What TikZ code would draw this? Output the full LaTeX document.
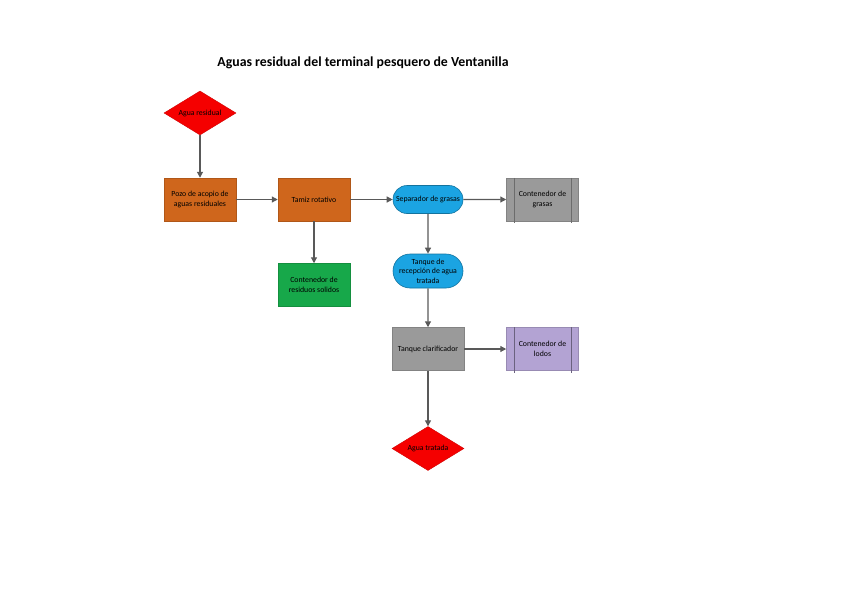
\documentclass[tikz,border=0pt]{standalone}
\usepackage{fontspec}
\setmainfont{Carlito}
\usetikzlibrary{shapes.geometric,shapes.misc,arrows.meta}
\definecolor{orangeF}{HTML}{CF661C}
\definecolor{greenF}{HTML}{17A84A}
\definecolor{blueF}{HTML}{1BA4E2}
\definecolor{grayF}{HTML}{9A9A9A}
\definecolor{lilacF}{HTML}{B3A3D3}
\definecolor{redF}{HTML}{F50000}
\definecolor{arrowC}{HTML}{595959}
\tikzset{
  nodefont/.style={font=\fontsize{7.8}{9.5}\selectfont},
  base/.style={minimum width=72pt, minimum height=43pt, inner sep=1pt, align=center, nodefont},
  procbox/.style={base, rectangle, fill=#1, draw=#1!85!black, line width=0.5pt},
  pill/.style={rounded rectangle, fill=blueF, draw=blueF!70!black, line width=0.6pt,
    minimum width=72pt, minimum height=#1, inner sep=1pt, nodefont, align=center},
  decision/.style={diamond, aspect=1.65, fill=redF, draw=redF!85!black, inner sep=0pt,
    minimum width=72pt, minimum height=44pt, nodefont, align=center},
  conn/.style={draw=arrowC, line width=1.2pt, -{Triangle[length=6pt,width=6pt]}},
}
\begin{document}
\begin{tikzpicture}[x=1pt,y=-1pt]
\useasboundingbox (0,0) rectangle (848,599);
\node[font=\bfseries\fontsize{13.8}{16}\selectfont] (title) at (363,63) {Aguas residual del terminal pesquero de Ventanilla};
\node[decision] (d1) at (200,113) {Agua residual};
\node[procbox=orangeF] (pozo) at (200,199.5) {Pozo de acopio de\\aguas residuales};
\node[procbox=orangeF] (tamiz) at (314,199.5) {Tamiz rotativo};
\node[pill=28pt] (sep) at (428,199.5) {Separador de grasas};
\node[procbox=grayF] (cg) at (542.5,199.5) {Contenedor de\\grasas};
\node[procbox=greenF] (crs) at (314,285) {Contenedor de\\residuos solidos};
\node[pill=34pt] (trec) at (428,271) {Tanque de\\recepción de agua\\tratada};
\node[procbox=grayF] (tcl) at (428,349) {Tanque clarificador};
\node[procbox=lilacF] (cl) at (542.5,349) {Contenedor de\\lodos};
\node[decision] (d2) at (428,448.5) {Agua tratada};
% predefined-process inner lines
\draw[draw=grayF!70!black, line width=0.5pt] ([xshift=8pt]cg.north west) -- ([xshift=8pt,yshift=-2pt]cg.south west)
  ([xshift=-8pt]cg.north east) -- ([xshift=-8pt,yshift=-2pt]cg.south east);
\draw[draw=lilacF!60!black, line width=0.5pt] ([xshift=8pt]cl.north west) -- ([xshift=8pt,yshift=-2pt]cl.south west)
  ([xshift=-8pt]cl.north east) -- ([xshift=-8pt,yshift=-2pt]cl.south east);
% connectors
\draw[conn] (d1) -- (pozo);
\draw[conn] (pozo) -- (tamiz);
\draw[conn] (tamiz) -- (sep);
\draw[conn] (sep) -- (cg);
\draw[conn] (tamiz) -- (crs);
\draw[conn] (sep) -- (trec);
\draw[conn] (trec) -- (tcl);
\draw[conn] (tcl) -- (cl);
\draw[conn] (tcl) -- (d2);
\end{tikzpicture}
\end{document}
